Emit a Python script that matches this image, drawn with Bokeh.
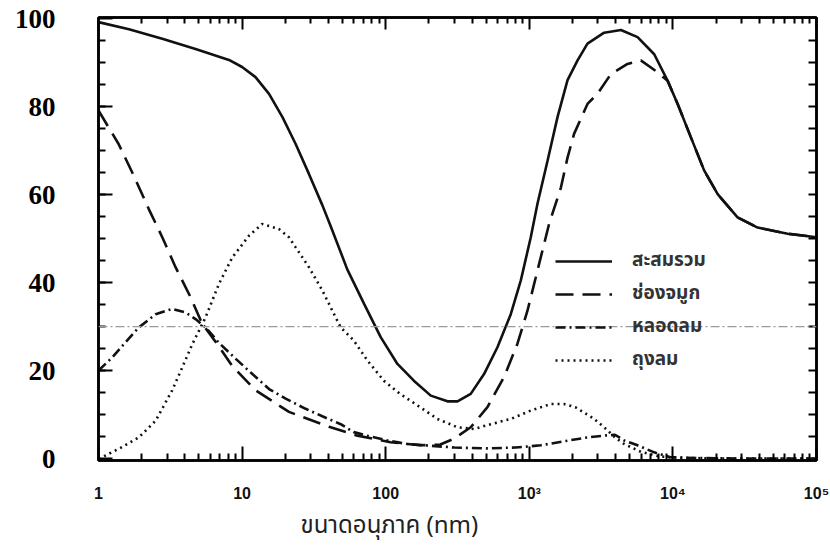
from bokeh.plotting import figure
from bokeh.models import (Range1d, FixedTicker, LinearAxis, LogAxis, Legend,
                          LegendItem, Span, Title)
from bokeh.embed import file_html
from bokeh.resources import INLINE

# ---------------- data ----------------
size_total = [1, 1.63, 2.78, 4.74, 8.1, 10, 12.4, 15.4, 19.1, 23.6, 29.2, 36.2, 41.4,
              54, 70.6, 92.3, 120.7, 157, 206, 269, 316, 391, 484, 600, 743, 873,
              1024, 1140, 1340, 1572, 1846, 2168, 2542, 3320, 4345, 5675, 7413, 9180,
              10790, 13350, 16500, 20500, 28200, 38900, 63000, 100000]
total = [99.2, 97.6, 95.4, 93.1, 90.6, 89.0, 86.7, 82.9, 77.6, 71.5, 64.7, 57.6, 52.8,
         43.0, 35.2, 27.6, 21.5, 17.7, 14.3, 13.0, 13.0, 14.7, 19.2, 25.3, 32.8, 40.5,
         50.3, 57.9, 67.7, 77.6, 86.0, 90.5, 94.3, 96.8, 97.4, 95.8, 91.9, 85.9,
         80.6, 73.0, 65.5, 60.1, 54.8, 52.5, 51.1, 50.3]

size_nasal = [1, 1.38, 1.76, 2.24, 2.78, 3.44, 4.37, 5.28, 6.89, 8.54, 12.4, 21.2, 40.3,
              63.5, 108, 175, 240, 299, 391, 511, 667, 827, 971, 1110, 1268, 1373, 1660,
              1846, 2050, 2542, 2985, 3700, 4830, 5980, 7820, 9180, 10790, 13350, 16500,
              20500, 28200, 38900, 63000, 100000]
nasal = [79.1, 71.5, 64.3, 56.7, 50.3, 43.5, 36.7, 30.6, 25.5, 21.0, 15.5, 10.6, 7.2,
         5.2, 3.7, 3.0, 3.2, 4.5, 7.1, 11.7, 18.5, 26.1, 33.6, 41.2, 48.8, 53.3, 61.6,
         68.4, 73.8, 80.6, 82.9, 87.4, 89.7, 90.5, 87.8, 85.9, 80.6, 73.0, 65.5,
         60.1, 54.8, 52.5, 51.1, 50.3]

size_tb = [1, 1.25, 1.54, 1.91, 2.5, 3.26, 4.04, 4.74, 5.57, 6.9, 9.0, 11.8, 15.4, 20.1,
           27.7, 36.2, 48.6, 60, 74.5, 103, 141, 206, 300, 500, 800, 1200, 1800, 2542,
           3320, 3950, 4580, 5675, 7413, 9600, 15000, 30000, 100000]
tb = [20.0, 23.0, 26.4, 29.8, 32.8, 34.0, 33.2, 31.7, 29.8, 26.3, 22.7, 19.2, 15.8, 13.6,
      11.3, 9.6, 7.8, 6.0, 5.2, 4.1, 3.3, 2.9, 2.5, 2.3, 2.5, 3.0, 4.0, 4.8,
      5.2, 5.4, 4.1, 3.0, 1.4, 0.3, 0.1, 0.0, 0.0]

size_alv = [1, 1.12, 1.46, 1.91, 2.5, 3.26, 3.83, 4.5, 5.57, 6.9, 8.54, 11.2, 13.8, 18,
            21.2, 23.6, 29.2, 36.2, 44.8, 48.6, 60, 74.5, 97, 126, 175, 229, 316, 412,
            539, 743, 1024, 1413, 1745, 2110, 2830, 3320, 3950, 4580, 6000, 8000, 10000,
            20000, 100000]
alv = [0.0, 0.7, 2.6, 4.8, 8.6, 15.5, 20.7, 26.0, 32.1, 39.7, 45.7, 50.7, 53.3, 52.2,
       50.3, 48.0, 43.5, 38.2, 32.1, 29.8, 26.8, 22.3, 17.7, 14.7, 11.6, 9.0, 7.1, 6.7,
       7.8, 9.0, 10.9, 12.4, 12.4, 11.6, 9.0, 7.1, 4.8, 3.3, 1.5, 0.5, 0.2,
       0.0, 0.0]

series_labels = ["สะสมรวม", "ช่องจมูก", "หลอดลม", "ถุงลม"]
x_ticks = [1, 10, 100, 1000, 10000, 100000]
x_tick_labels = ["1", "10", "100", "10³", "10⁴", "10⁵"]
y_ticks = [0, 20, 40, 60, 80, 100]
x_title = "ขนาดอนุภาค (nm)"
ref_level = 30

THAI = "'Noto Sans Thai', 'Noto Sans', sans-serif"

# ---------------- figure ----------------
p = figure(width=830, height=546, x_axis_type="log",
           x_range=Range1d(1, 1e5), y_range=Range1d(-0.45, 100.25),
           output_backend="svg", toolbar_location=None,
           min_border_left=98, min_border_right=14, min_border_top=17,
           min_border_bottom=86)
p.grid.visible = False
p.outline_line_color = "black"
p.outline_line_width = 2.5

minor_x = [m * 10 ** k for k in range(5) for m in range(2, 10)]

# bottom axis
xa = p.xaxis[0]
xa.ticker = FixedTicker(ticks=x_ticks, minor_ticks=minor_x)
xa.major_label_overrides = {t: l for t, l in zip(x_ticks, x_tick_labels)}
xa.major_label_text_font = "Liberation Sans"
xa.major_label_text_font_style = "bold"
xa.major_label_text_font_size = "16px"
xa.major_label_text_color = "#111111"
xa.major_label_standoff = 24
xa.major_tick_in = 14
xa.major_tick_out = 0
xa.minor_tick_in = 7
xa.minor_tick_out = 0
xa.axis_line_width = 2.5
xa.major_tick_line_width = 2
xa.minor_tick_line_width = 2

# left axis
ya = p.yaxis[0]
ya.ticker = FixedTicker(ticks=y_ticks, minor_ticks=list(range(5, 100, 5)))
ya.major_label_text_font = "Liberation Serif"
ya.major_label_text_font_style = "bold"
ya.major_label_text_font_size = "27px"
ya.major_label_text_color = "black"
ya.major_label_standoff = 43
ya.major_tick_in = 14
ya.major_tick_out = 0
ya.minor_tick_in = 7
ya.minor_tick_out = 0
ya.axis_line_width = 2.5
ya.major_tick_line_width = 2
ya.minor_tick_line_width = 2

# top axis (ticks only)
top = LogAxis(ticker=FixedTicker(ticks=x_ticks, minor_ticks=minor_x),
              major_label_text_font_size="1px", major_label_text_alpha=0,
              major_label_standoff=0,
              major_tick_in=12, major_tick_out=0, minor_tick_in=6, minor_tick_out=0,
              axis_line_width=2.5, major_tick_line_width=2, minor_tick_line_width=2)
p.add_layout(top, "above")

# right axis (ticks only)
right = LinearAxis(ticker=FixedTicker(ticks=list(range(5, 100, 5))),
                   major_label_text_font_size="1px", major_label_text_alpha=0,
                   major_label_standoff=0,
                   major_tick_in=8, major_tick_out=0, minor_tick_in=0, minor_tick_out=0,
                   axis_line_width=2.5, major_tick_line_width=2)
p.add_layout(right, "right")

# reference dash-dot line
p.add_layout(Span(location=ref_level, dimension="width", line_color="#9a9a9a",
                  line_width=1.3, line_dash="9 3 2 3"))

r1 = p.line(size_total, total, line_color="#111111", line_width=2.6)
r2 = p.line(size_nasal, nasal, line_color="#111111", line_width=2.6, line_dash="18 9")
r3 = p.line(size_tb, tb, line_color="#111111", line_width=2.6, line_dash="10 4 2 4")
r4 = p.line(size_alv, alv, line_color="#111111", line_width=2.6, line_dash="2 4")

legend = Legend(items=[LegendItem(label=l, renderers=[r]) for l, r in
                       zip(series_labels, [r1, r2, r3, r4])],
                location=(457, 86), glyph_width=57, glyph_height=26,
                label_height=26, spacing=4, padding=0, margin=0,
                label_standoff=20, border_line_color=None,
                background_fill_alpha=0,
                label_text_font=THAI,
                label_text_font_size="19px", label_text_font_style="bold",
                label_text_color="#333333")
p.add_layout(legend)

# x-axis title (placed left of centre as in the reference)
p.add_layout(Title(text=x_title, align="left", offset=202, standoff=2,
                   text_font_size="24px", text_font=THAI, text_font_style="normal",
                   text_color="#222222"), "below")

open("out.html", "w").write(file_html(p, INLINE))
